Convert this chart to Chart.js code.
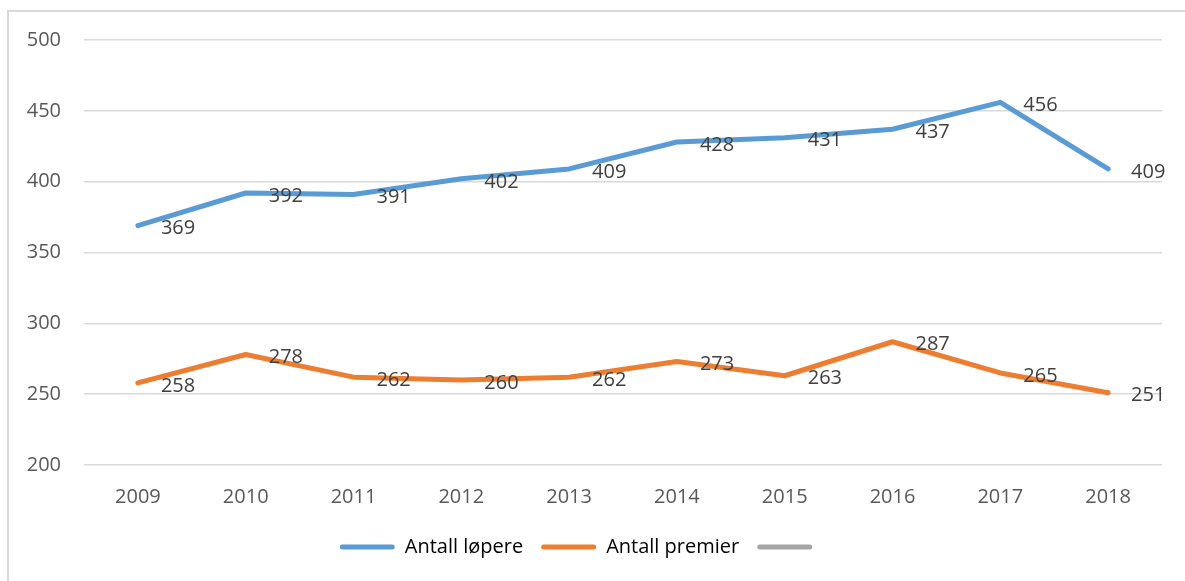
<!DOCTYPE html>
<html lang="no">
<head>
    <meta charset="UTF-8">
    <title>Antall løpere og premier 2009-2018</title>
    <script src="https://cdn.jsdelivr.net/npm/chart.js@4.4.4/dist/chart.umd.min.js"></script>
    <style>
        html, body { margin: 0; padding: 0; background: #fff; }
        .wrap { position: relative; width: 1185px; height: 581px; overflow: hidden; }
        .frame {
            position: absolute; left: 7px; top: 10px; width: 1300px; height: 700px;
            border-top: 2px solid #d9d9d9; border-left: 2px solid #d9d9d9;
        }
        canvas { position: absolute; left: 0; top: 0; }
    </style>
</head>
<body>
<div class="wrap">
    <div class="frame"></div>
    <canvas id="chart" width="1185" height="581"></canvas>
</div>
<script>
    // Data
    const years = ['2009', '2010', '2011', '2012', '2013', '2014', '2015', '2016', '2017', '2018'];
    const lopere = [369, 392, 391, 402, 409, 428, 431, 437, 456, 409];
    const premier = [258, 278, 262, 260, 262, 273, 263, 287, 265, 251];
    const seriesNames = ['Antall løpere', 'Antall premier', ''];
    const seriesColors = ['#5b9bd5', '#ed7d31', '#a5a5a5'];

    const FONT = '"Open Sans", "Noto Sans", sans-serif';

    // value labels to the right of each point
    const valueLabels = {
        id: 'valueLabels',
        afterDatasetsDraw(chart) {
            const ctx = chart.ctx;
            ctx.save();
            ctx.font = '20px ' + FONT;
            ctx.fillStyle = '#404040';
            ctx.textAlign = 'left';
            ctx.textBaseline = 'middle';
            chart.data.datasets.forEach((ds, i) => {
                const meta = chart.getDatasetMeta(i);
                meta.data.forEach((pt, j) => {
                    if (ds.data[j] == null) return;
                    ctx.fillText(String(ds.data[j]), pt.x + 23, pt.y + 3);
                });
            });
            ctx.restore();
        }
    };

    new Chart(document.getElementById('chart'), {
        type: 'line',
        data: {
            labels: years,
            datasets: [
                { label: seriesNames[0], data: lopere, borderColor: seriesColors[0], backgroundColor: seriesColors[0] },
                { label: seriesNames[1], data: premier, borderColor: seriesColors[1], backgroundColor: seriesColors[1] },
                { label: seriesNames[2], data: [], borderColor: seriesColors[2], backgroundColor: seriesColors[2] }
            ].map(d => Object.assign(d, {
                borderWidth: 5,
                pointRadius: 0,
                tension: 0,
                borderJoinStyle: 'round',
                borderCapStyle: 'round'
            }))
        },
        options: {
            responsive: false,
            animation: false,
            layout: { padding: { top: 40, right: 23, left: 0, bottom: 14 } },
            plugins: {
                tooltip: { enabled: false },
                legend: {
                    position: 'bottom',
                    labels: {
                        color: '#595959',
                        font: { family: FONT, size: 20 },
                        boxWidth: 55,
                        boxHeight: 5,
                        padding: 18,
                        generateLabels: chart => chart.data.datasets.map((ds, i) => ({
                            text: ds.label,
                            fillStyle: ds.borderColor,
                            strokeStyle: ds.borderColor,
                            lineWidth: 0,
                            borderRadius: 2.5,
                            datasetIndex: i
                        }))
                    }
                }
            },
            scales: {
                x: {
                    offset: true,
                    grid: { display: false },
                    border: { display: false },
                    ticks: { color: '#595959', font: { family: FONT, size: 20 }, padding: 12 },
                    afterFit: axis => { axis.height = 54; }
                },
                y: {
                    min: 200,
                    max: 500,
                    ticks: { stepSize: 50, color: '#595959', font: { family: FONT, size: 20 }, padding: 23 },
                    grid: { color: '#d9d9d9', lineWidth: 1.5, drawTicks: false },
                    border: { display: false },
                    afterFit: axis => { axis.width = 84; }
                }
            }
        },
        plugins: [valueLabels]
    });
</script>
</body>
</html>
